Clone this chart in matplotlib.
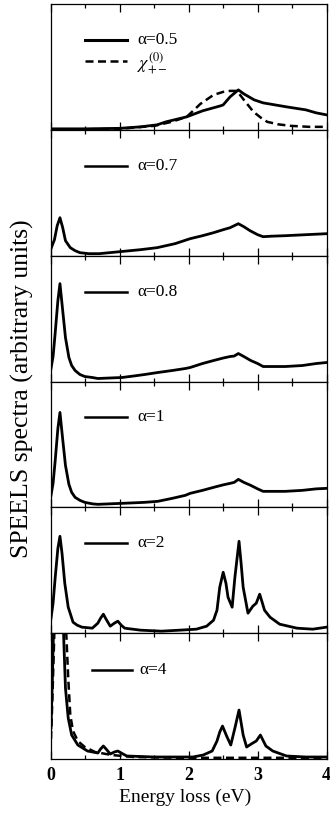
import matplotlib
matplotlib.use("Agg")
import matplotlib.pyplot as plt
from matplotlib.ticker import MultipleLocator

plt.rcParams['font.family'] = ['Liberation Serif', 'DejaVu Serif']
plt.rcParams['mathtext.fontset'] = 'stix'

# ---------------- data (arbitrary units) ----------------
# panel 1: alpha = 0.5 (solid) and chi_{+-}^(0) (dashed)
e_a05 = [0, 0.5, 1.0, 1.3, 1.54, 1.67, 1.97, 2.2, 2.46, 2.5, 2.6, 2.72, 2.8, 2.95, 3.08, 3.42, 3.7, 3.85, 4.0]
h_a05 = [1, 1, 1.5, 3, 5, 8, 13, 19, 24, 25, 33, 40, 36, 30, 27, 23, 20, 17, 15]
e_chi1 = [0, 0.5, 1.0, 1.5, 1.75, 1.97, 2.17, 2.36, 2.5, 2.6, 2.7, 2.8, 2.94, 3.05, 3.14, 3.3, 3.48, 3.75, 4.0]
h_chi1 = [0.5, 0.5, 1, 4, 8, 13, 26, 35, 38, 39, 39, 30, 18, 12, 8, 5.5, 4, 3, 3]

# panel 2: alpha = 0.7
e_a07 = [0, 0.05, 0.09, 0.13, 0.17, 0.21, 0.28, 0.35, 0.42, 0.55, 0.7, 1.0, 1.3, 1.54, 1.8, 2.02,
         2.2, 2.36, 2.5, 2.6, 2.72, 2.8, 2.89, 3.0, 3.08, 3.2, 3.4, 3.7, 4.0]
h_a07 = [7, 16, 30, 38, 28, 15, 8, 5, 3, 2, 2, 4, 6, 8, 12, 17,
         20, 23, 26, 28, 32, 29, 25, 21, 19, 19.5, 20, 21, 22]

# panel 3: alpha = 0.8
e_a08 = [0, 0.03, 0.06, 0.1, 0.13, 0.17, 0.21, 0.26, 0.3, 0.35, 0.42, 0.49, 0.6, 0.68, 0.85, 1.03,
         1.2, 1.36, 1.55, 1.76, 1.95, 2.02, 2.2, 2.36, 2.5, 2.6, 2.66, 2.72, 2.8, 2.9, 3.0, 3.08,
         3.25, 3.4, 3.65, 3.85, 4.0]
h_a08 = [13, 25, 48, 81, 98, 71, 44, 24, 16, 11, 7, 5, 4, 3, 3.5, 4,
         5.5, 7, 9, 11, 13, 14, 18, 21, 23.5, 25, 25.5, 28, 25, 21, 18, 15,
         15, 15, 16, 18, 19]

# panel 4: alpha = 1
e_a1 = [0, 0.03, 0.06, 0.1, 0.13, 0.17, 0.21, 0.26, 0.3, 0.35, 0.42, 0.49, 0.6, 0.68, 0.85, 1.03,
        1.2, 1.36, 1.55, 1.76, 1.95, 2.02, 2.2, 2.36, 2.5, 2.6, 2.66, 2.72, 2.8, 2.9, 3.0, 3.08,
        3.25, 3.4, 3.65, 3.85, 4.0]
h_a1 = [12, 24, 46, 79, 95, 68, 42, 23, 15, 10, 7, 5, 3.5, 3, 3.5, 4,
        4.5, 5, 6, 9, 12, 14, 17, 20, 22.5, 24, 25, 28, 25, 22, 18.5, 16,
        16, 16, 17, 18.5, 19]

# panel 5: alpha = 2
e_a2 = [0, 0.03, 0.06, 0.1, 0.13, 0.16, 0.2, 0.25, 0.32, 0.38, 0.45, 0.6, 0.68, 0.72, 0.76, 0.8,
        0.86, 0.92, 0.97, 1.02, 1.07, 1.3, 1.6, 1.87, 2.11, 2.26, 2.36, 2.41, 2.45, 2.5, 2.54,
        2.57, 2.63, 2.67, 2.73, 2.76, 2.79, 2.86, 2.93, 2.98, 3.03, 3.07, 3.1, 3.18, 3.32, 3.57,
        3.8, 4.0]
h_a2 = [15, 30, 55, 85, 97, 80, 50, 26, 11, 8, 6, 5, 10, 15, 19, 14,
        7, 10, 12, 8, 5, 3, 2, 3, 4, 7, 13, 23, 46, 61, 50,
        36, 26, 56, 92, 70, 46, 20, 27, 30, 39, 30, 23, 16, 9, 5,
        4, 6]

# panel 6: alpha = 4 (solid) and chi_{+-}^(0) (dashed)
e_a4 = [0, 0.02, 0.04, 0.07, 0.1, 0.13, 0.17, 0.21, 0.25, 0.3, 0.39, 0.53, 0.68, 0.72, 0.76, 0.8,
        0.86, 0.92, 0.97, 1.02, 1.1, 1.5, 2.06, 2.21, 2.34, 2.41, 2.45, 2.49, 2.55, 2.61, 2.67,
        2.73, 2.79, 2.84, 2.93, 2.98, 3.04, 3.12, 3.22, 3.42, 3.7, 4.0]
h_a4 = [31, 80, 140, 220, 260, 250, 150, 71, 41, 24, 14, 8, 6, 10, 13, 10,
        5, 7, 8, 6, 3, 2, 2, 4, 8, 18, 27, 33, 23, 14, 31,
        49, 24, 12, 16, 18, 24, 13, 8, 3, 2, 2]
e_chi4 = [0, 0.02, 0.05, 0.08, 0.12, 0.16, 0.2, 0.25, 0.28, 0.32, 0.39, 0.49, 0.64, 0.88, 1.2, 1.6, 2.0, 3.0, 4.0]
h_chi4 = [20, 60, 130, 220, 280, 260, 160, 81, 44, 28, 18, 12, 7, 4, 2, 1.5, 1.2, 1.2, 1.2]

labels = ['α=0.5', 'α=0.7', 'α=0.8', 'α=1', 'α=2', 'α=4']
chi_label = r'$\chi_{+-}^{(0)}$'
xticks = [0, 1, 2, 3, 4]
xlabel = 'Energy loss (eV)'
ylabel = 'SPEELS spectra (arbitrary units)'

solids = [(e_a05, h_a05), (e_a07, h_a07), (e_a08, h_a08), (e_a1, h_a1), (e_a2, h_a2), (e_a4, h_a4)]
dashed = {0: (e_chi1, h_chi1), 5: (e_chi4, h_chi4)}

# ---------------- figure ----------------
W, H = 330, 819
fig = plt.figure(figsize=(W / 100, H / 100), dpi=100)
gs = fig.add_gridspec(6, 1, left=51 / W, right=326.5 / W, top=1 - 4 / H, bottom=1 - 759 / H, hspace=0)

YMAX = 126
for i in range(6):
    ax = fig.add_subplot(gs[i])
    e, h = solids[i]
    ax.plot(e, h, color='black', lw=2.0, solid_joinstyle='round')
    if i in dashed:
        ed, hd = dashed[i]
        ax.plot(ed, hd, color='black', lw=1.8, ls=(0, (3.2, 1.8)))
    ax.set_xlim(0, 4)
    ax.set_ylim(0, YMAX)
    ax.set_yticks([])
    ax.set_xticks(xticks)
    ax.xaxis.set_minor_locator(MultipleLocator(0.5))
    ax.tick_params(axis='x', which='both', direction='in', top=True, bottom=True, width=0.9)
    ax.tick_params(axis='x', which='major', length=5.5, pad=6)
    ax.tick_params(axis='x', which='minor', length=3)
    for s in ax.spines.values():
        s.set_linewidth(0.9)
    if i < 5:
        ax.set_xticklabels([])
    else:
        ax.set_xticklabels([str(t) for t in xticks], fontsize=13, fontweight='bold')

    # legend-like annotations
    if i < 5:
        x0, x1, xt, yl = 0.49, 1.10, 1.25, 90
    else:
        x0, x1, xt, yl = 0.60, 1.18, 1.29, 89
    ax.plot([x0, x1], [yl, yl], color='black', lw=2.2 if i == 0 else 1.8)
    ax.text(xt, yl, labels[i], fontsize=12.5, va='center', ha='left')
    if i == 0:
        ax.plot([x0, x1], [69, 69], color='black', lw=1.8, ls=(0, (3.2, 1.8)))
        ax.text(xt, 67, chi_label, fontsize=13, va='center', ha='left')

fig.text(22 / W, 1 - 389 / H, ylabel, rotation=90, ha='center', va='center', fontsize=18.5)
fig.text(185 / W, 1 - 797 / H, xlabel, ha='center', va='center', fontsize=14)

fig.savefig('out.png', dpi=100)
